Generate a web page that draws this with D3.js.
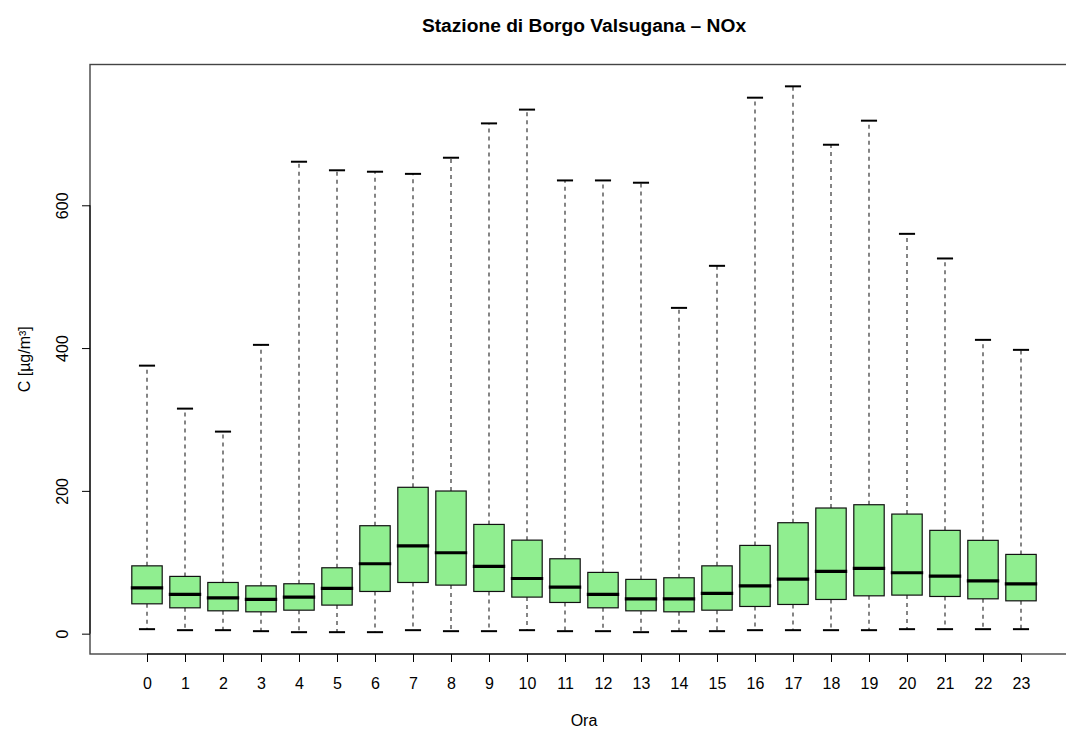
<!DOCTYPE html>
<html>
<head>
<meta charset="utf-8">
<script src="https://cdn.jsdelivr.net/npm/d3@7"></script>
<style>
  html, body { margin: 0; padding: 0; background: #fff; overflow: hidden; }
  svg { display: block; font-family: "Liberation Sans", Arial, Helvetica, sans-serif; }
</style>
</head>
<body>
<svg id="chart" width="1066" height="734"></svg>
<script>
// ---- Data ----
const hours = ["0","1","2","3","4","5","6","7","8","9","10","11","12","13","14","15","16","17","18","19","20","21","22","23"];
const whiskerLow = [6.3,4.9,4.9,3.5,2.1,2.1,2.1,4.9,3.5,3.5,4.9,3.5,3.5,2.1,3.5,3.5,4.9,4.9,4.9,4.9,6.3,6.3,6.3,6.3];
const q1 = [41.8,36.2,32,30.6,32.9,40,59.1,71.7,68,59.1,51.2,43.7,36.2,32,30.6,32.9,38.1,40.9,47.9,53,54,52.1,48.8,46];
const medians = [64,54.9,50.2,47.9,51.2,63.3,97.9,123.1,113.3,94.2,77.3,65.2,54.9,48.8,48.8,56.3,67,76.4,87.2,91.4,85.3,80.6,74,69.8];
const q3 = [95,80.2,71.7,67,69.9,92.3,151.2,205,199.8,153,131,104.9,85.8,76,78.3,95,123.6,155.4,176,180.6,167.5,144.7,130.7,111];
const whiskerHigh = [375.4,315.2,283,404.5,661,649,647,644,666.6,714.7,734,634.8,634.8,631.6,456.3,515.2,750.7,766.6,684.8,718.5,560,525.5,411.5,397.5];
const yTicks = [0, 200, 400, 600];
const title = "Stazione di Borgo Valsugana \u2013 NOx";
const xLabel = "Ora";
const yLabel = "C [\u00b5g/m\u00b3]";

const data = hours.map((h, i) => ({
  h, i, lo: whiskerLow[i], q1: q1[i], med: medians[i], q3: q3[i], hi: whiskerHigh[i]
}));

// ---- Layout ----
// plot region extends past the right edge of the picture, as in the reference
const plot = { left: 90, right: 1078, top: 64.5, bottom: 654 };
const svg = d3.select("#chart");
const FS = 16;

const yMin = d3.min(whiskerLow), yMax = d3.max(whiskerHigh);
const ext = (yMax - yMin) * 0.04;
const y = d3.scaleLinear().domain([yMin - ext, yMax + ext]).range([plot.bottom, plot.top]);
const x = d3.scaleLinear().domain([-1.5, 24.5]).range([plot.left, plot.right]);
const unit = x(1) - x(0);
const boxW = unit * 0.8;
const stapleW = boxW * 0.53;
const cx = (plot.left + plot.right) / 2;

// plot frame
svg.append("rect")
  .attr("x", plot.left).attr("y", plot.top)
  .attr("width", plot.right - plot.left).attr("height", plot.bottom - plot.top)
  .attr("fill", "none").attr("stroke", "#444").attr("stroke-width", 1.4);

const g = svg.append("g");

// whiskers (dashed)
g.selectAll(".wUp").data(data).join("line")
  .attr("x1", d => x(d.i)).attr("x2", d => x(d.i))
  .attr("y1", d => y(d.q3)).attr("y2", d => y(d.hi))
  .attr("stroke", "#222").attr("stroke-width", 1.1).attr("stroke-dasharray", "4,4");
g.selectAll(".wLo").data(data).join("line")
  .attr("x1", d => x(d.i)).attr("x2", d => x(d.i))
  .attr("y1", d => y(d.q1)).attr("y2", d => y(d.lo))
  .attr("stroke", "#222").attr("stroke-width", 1.1).attr("stroke-dasharray", "4,4");

// staples
g.selectAll(".sHi").data(data).join("line")
  .attr("x1", d => x(d.i) - stapleW / 2).attr("x2", d => x(d.i) + stapleW / 2)
  .attr("y1", d => y(d.hi)).attr("y2", d => y(d.hi))
  .attr("stroke", "#000").attr("stroke-width", 2);
g.selectAll(".sLo").data(data).join("line")
  .attr("x1", d => x(d.i) - stapleW / 2).attr("x2", d => x(d.i) + stapleW / 2)
  .attr("y1", d => y(d.lo)).attr("y2", d => y(d.lo))
  .attr("stroke", "#000").attr("stroke-width", 2);

// boxes
g.selectAll(".box").data(data).join("rect")
  .attr("x", d => x(d.i) - boxW / 2).attr("width", boxW)
  .attr("y", d => y(d.q3)).attr("height", d => y(d.q1) - y(d.q3))
  .attr("fill", "#90EE90").attr("stroke", "#111").attr("stroke-width", 1.2);

// medians
g.selectAll(".med").data(data).join("line")
  .attr("x1", d => x(d.i) - boxW / 2 - 1).attr("x2", d => x(d.i) + boxW / 2 + 1)
  .attr("y1", d => y(d.med)).attr("y2", d => y(d.med))
  .attr("stroke", "#000").attr("stroke-width", 3.2);

// x axis
const xAxis = d3.axisBottom(x).tickValues(d3.range(hours.length))
  .tickFormat(i => hours[i]).tickSize(8).tickPadding(16).tickSizeOuter(0);
const xa = svg.append("g").attr("transform", `translate(0,${plot.bottom})`).call(xAxis);
xa.select(".domain").attr("d", `M${x(0)},0H${x(hours.length - 1)}`).attr("stroke", "#000");
xa.selectAll("text").attr("font-size", FS).attr("fill", "#000")
  .attr("font-family", "Liberation Sans, Arial, sans-serif");
xa.selectAll(".tick line").attr("stroke", "#000");

// y axis
const yAxis = d3.axisLeft(y).tickValues(yTicks).tickSize(8).tickSizeOuter(0).tickFormat(d3.format("d"));
const ya = svg.append("g").attr("transform", `translate(${plot.left},0)`).call(yAxis);
ya.select(".domain").attr("d", `M0,${y(yTicks[0])}V${y(yTicks[yTicks.length - 1])}`).attr("stroke", "#000");
ya.selectAll(".tick line").attr("stroke", "#000");
ya.selectAll("text")
  .attr("font-size", FS).attr("fill", "#000")
  .attr("font-family", "Liberation Sans, Arial, sans-serif")
  .attr("x", null).attr("dy", null)
  .attr("text-anchor", "middle")
  .attr("transform", "translate(-22,0) rotate(-90)");

// title
svg.append("text")
  .attr("x", cx).attr("y", 31.5)
  .attr("text-anchor", "middle")
  .attr("font-size", FS * 1.2).attr("font-weight", "bold")
  .text(title);

// axis labels
svg.append("text")
  .attr("x", cx).attr("y", 726)
  .attr("text-anchor", "middle").attr("font-size", FS)
  .text(xLabel);
svg.append("text")
  .attr("transform", `translate(29.5,${(plot.top + plot.bottom) / 2}) rotate(-90)`)
  .attr("text-anchor", "middle").attr("font-size", FS)
  .text(yLabel);
</script>
</body>
</html>
